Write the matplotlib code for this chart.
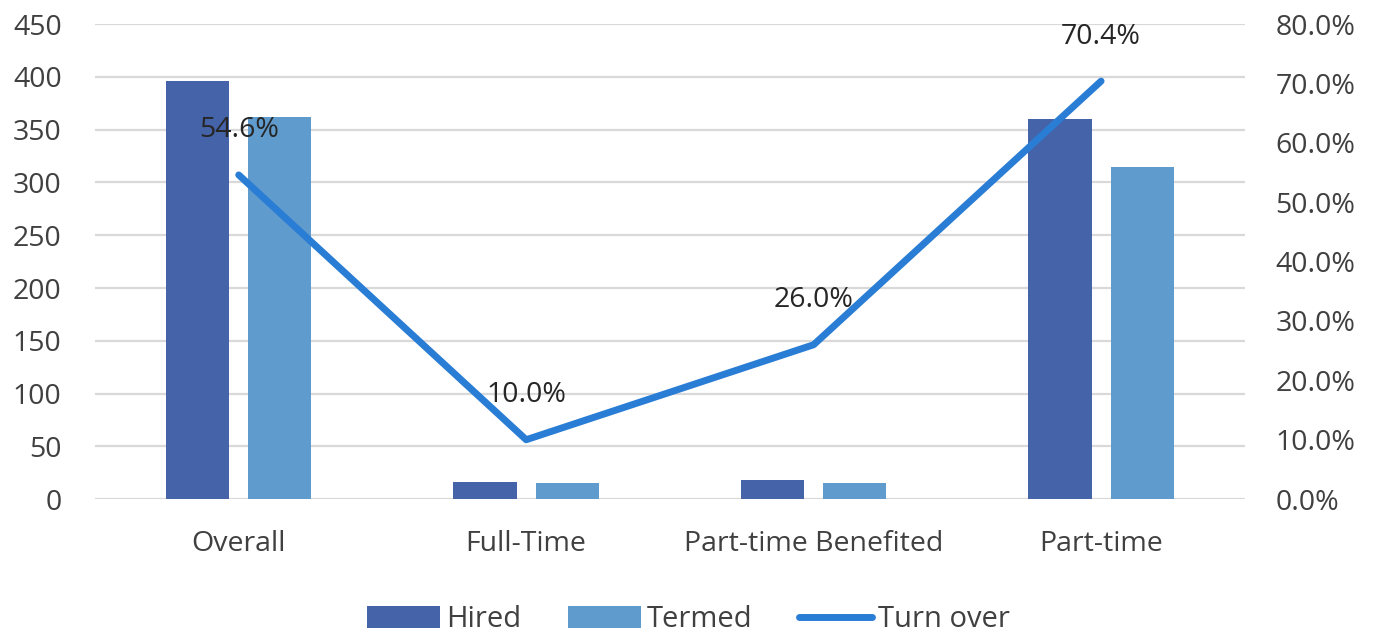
import matplotlib.pyplot as plt
import numpy as np

categories = ["Overall", "Full-Time", "Part-time Benefited", "Part-time"]
hired = [396, 16, 18, 360]
termed = [362, 15, 15, 315]
turnover = [54.6, 10.0, 26.0, 70.4]

plt.rcParams['font.family'] = ['Open Sans', 'DejaVu Sans']
fs = 20.5

fig = plt.figure(figsize=(13.77, 6.35), dpi=100)
ax = fig.add_axes([0.069, 0.214, 0.835, 0.748])
x = np.arange(len(categories))
w = 0.22

ax.bar(x - 0.143, hired, w, color='#4563a9', label='Hired', zorder=2)
ax.bar(x + 0.143, termed, w, color='#5f9bcd', label='Termed', zorder=2)

ax.set_xlim(-0.5, 3.5)
ax.set_ylim(0, 450)
ax.set_yticks(range(0, 451, 50))
ax.yaxis.grid(True, color='#d9d9d9', linewidth=1.6, zorder=0)
ax.set_axisbelow(True)
for s in ax.spines.values():
    s.set_visible(False)
ax.set_xticks(x)
ax.set_xticklabels(categories)
ax.tick_params(axis='both', length=0, labelsize=fs, colors='#404040')
ax.tick_params(axis='x', pad=22)
ax.tick_params(axis='y', pad=24)

ax2 = ax.twinx()
ax2.set_ylim(0, 80)
ax2.set_yticks(range(0, 81, 10))
ax2.set_yticklabels([f"{v:.1f}%" for v in range(0, 81, 10)])
ax2.tick_params(axis='y', length=0, labelsize=fs, colors='#404040', pad=22)
for s in ax2.spines.values():
    s.set_visible(False)
line, = ax2.plot(x, turnover, color='#2a7dd4', linewidth=5, label='Turn over',
                 solid_capstyle='round', zorder=3)
for xi, v in zip(x, turnover):
    ax2.annotate(f"{v:.1f}%", (xi, v), xytext=(0, 32), textcoords='offset points',
                 ha='center', va='center', fontsize=fs, color='#262626')

handles = ax.get_legend_handles_labels()[0] + [line]
fig.legend(handles, ['Hired', 'Termed', 'Turn over'], loc='center',
           bbox_to_anchor=(0.5, 0.024), ncol=3, frameon=False, fontsize=21,
           handlelength=2.5, handleheight=0.75, columnspacing=1.6,
           handletextpad=0.2, labelcolor='#404040')

fig.savefig('out.png', dpi=100)
